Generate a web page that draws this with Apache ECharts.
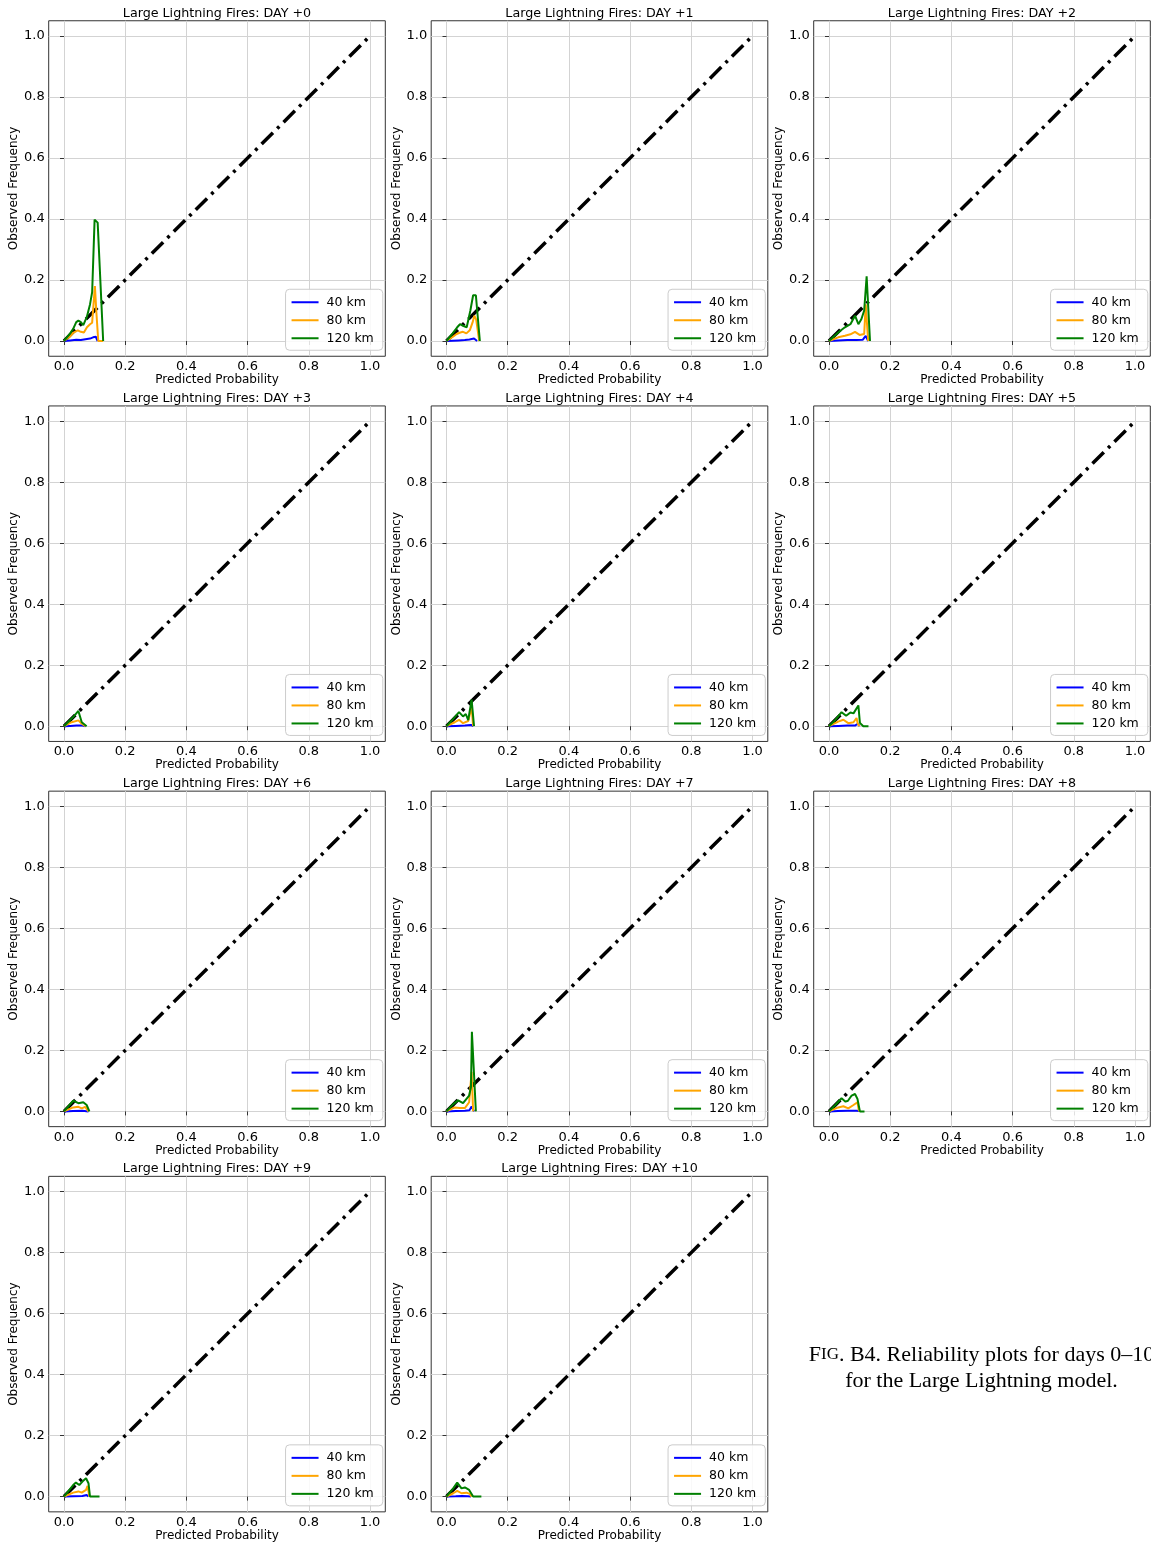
<!DOCTYPE html>
<html>
<head>
<meta charset="utf-8">
<script src="https://cdn.jsdelivr.net/npm/echarts@6/dist/echarts.min.js"></script>
<style>
html,body{margin:0;padding:0;background:#fff;}
#chart{width:1151px;height:1544px;}
</style>
</head>
<body>
<div id="chart"></div>
<script>
// ---- data ----
const dayLabels = ['DAY +0','DAY +1','DAY +2','DAY +3','DAY +4','DAY +5','DAY +6','DAY +7','DAY +8','DAY +9','DAY +10'];
const seriesNames = ['40 km','80 km','120 km'];
const tickValues = [0, 0.2, 0.4, 0.6, 0.8, 1.0];
const perfectLine = [[0, 0], [1, 1]];

const day0_40  = [[0,0],[0.02,0.002],[0.04,0.004],[0.055,0.003],[0.07,0.006],[0.085,0.008],[0.095,0.012],[0.104,0.014],[0.11,0]];
const day0_80  = [[0,0],[0.02,0.015],[0.03,0.027],[0.045,0.035],[0.055,0.03],[0.065,0.028],[0.075,0.045],[0.085,0.055],[0.092,0.06],[0.101,0.18],[0.106,0.09],[0.112,0],[0.128,0]];
const day0_120 = [[0,0],[0.02,0.025],[0.03,0.04],[0.04,0.062],[0.047,0.067],[0.055,0.062],[0.063,0.052],[0.075,0.08],[0.085,0.12],[0.092,0.16],[0.1,0.398],[0.11,0.388],[0.128,0]];

const day1_40  = [[0,0],[0.02,0.001],[0.04,0.002],[0.06,0.003],[0.075,0.005],[0.09,0.008],[0.1,0]];
const day1_80  = [[0,0],[0.02,0.013],[0.033,0.023],[0.045,0.028],[0.054,0.03],[0.065,0.025],[0.076,0.035],[0.085,0.06],[0.091,0.083],[0.097,0.07],[0.107,0]];
const day1_120 = [[0,0],[0.02,0.025],[0.035,0.045],[0.044,0.055],[0.054,0.05],[0.066,0.045],[0.078,0.1],[0.087,0.15],[0.096,0.15],[0.109,0]];

const day2_40  = [[0,0],[0.03,0.002],[0.06,0.003],[0.09,0.003],[0.11,0.004],[0.12,0.017],[0.128,0]];
const day2_80  = [[0,0],[0.03,0.012],[0.052,0.017],[0.07,0.022],[0.085,0.03],[0.1,0.02],[0.115,0.023],[0.12,0.12],[0.128,0]];
const day2_120 = [[0,0],[0.03,0.028],[0.052,0.045],[0.07,0.055],[0.085,0.083],[0.096,0.055],[0.106,0.072],[0.115,0.1],[0.123,0.212],[0.134,0]];

const day3_40  = [[0,0],[0.02,0.001],[0.04,0.002],[0.06,0.002],[0.07,0]];
const day3_80  = [[0,0],[0.025,0.013],[0.047,0.019],[0.058,0.008],[0.07,0]];
const day3_120 = [[0,0],[0.03,0.03],[0.047,0.05],[0.058,0.013],[0.074,0]];

const day4_40  = [[0,0],[0.03,0.001],[0.06,0.002],[0.08,0.004],[0.087,0]];
const day4_80  = [[0,0],[0.027,0.013],[0.041,0.021],[0.054,0.01],[0.071,0.017],[0.082,0.063],[0.087,0]];
const day4_120 = [[0,0],[0.022,0.024],[0.041,0.046],[0.054,0.032],[0.063,0.04],[0.071,0.02],[0.082,0.087],[0.09,0]];

const day5_40  = [[0,0],[0.03,0.001],[0.06,0.002],[0.085,0.002],[0.094,0.008],[0.1,0]];
const day5_80  = [[0,0],[0.03,0.015],[0.047,0.021],[0.063,0.01],[0.08,0.013],[0.09,0.027],[0.094,0.008],[0.1,0]];
const day5_120 = [[0,0],[0.02,0.02],[0.041,0.046],[0.056,0.034],[0.07,0.045],[0.08,0.042],[0.096,0.068],[0.101,0.011],[0.112,0],[0.129,0]];

const day6_40  = [[0,0],[0.03,0.001],[0.06,0.002],[0.08,0]];
const day6_80  = [[0,0],[0.03,0.013],[0.047,0.015],[0.058,0.01],[0.069,0.015],[0.08,0]];
const day6_120 = [[0,0],[0.03,0.035],[0.036,0.041],[0.047,0.027],[0.063,0.03],[0.074,0.021],[0.083,0]];

const day7_40  = [[0,0],[0.03,0.001],[0.06,0.002],[0.075,0.004],[0.082,0.016],[0.09,0]];
const day7_80  = [[0,0],[0.027,0.013],[0.044,0.011],[0.06,0.011],[0.074,0.03],[0.082,0.13],[0.087,0]];
const day7_120 = [[0,0],[0.022,0.024],[0.038,0.036],[0.054,0.027],[0.074,0.052],[0.08,0.08],[0.083,0.261],[0.096,0]];

const day8_40  = [[0,0],[0.03,0.001],[0.06,0.002],[0.09,0.002],[0.1,0.001]];
const day8_80  = [[0,0],[0.03,0.013],[0.047,0.017],[0.063,0.01],[0.08,0.021],[0.093,0.03],[0.098,0]];
const day8_120 = [[0,0],[0.02,0.02],[0.041,0.043],[0.054,0.032],[0.062,0.035],[0.074,0.052],[0.085,0.057],[0.093,0.041],[0.101,0],[0.116,0]];

const day9_40  = [[0,0],[0.03,0.001],[0.06,0.002],[0.074,0.005],[0.08,0]];
const day9_80  = [[0,0],[0.03,0.013],[0.047,0.017],[0.058,0.013],[0.072,0.022],[0.077,0.035],[0.083,0]];
const day9_120 = [[0,0],[0.03,0.038],[0.039,0.046],[0.05,0.038],[0.061,0.05],[0.072,0.06],[0.08,0.044],[0.085,0],[0.116,0]];

const day10_40  = [[0,0],[0.03,0.001],[0.05,0.002],[0.07,0.001],[0.08,0]];
const day10_80  = [[0,0],[0.022,0.011],[0.035,0.019],[0.049,0.011],[0.065,0.013],[0.076,0.009],[0.082,0]];
const day10_120 = [[0,0],[0.022,0.027],[0.035,0.046],[0.049,0.027],[0.06,0.03],[0.066,0.032],[0.074,0.022],[0.087,0],[0.114,0]];

const km40  = [day0_40, day1_40, day2_40, day3_40, day4_40, day5_40, day6_40, day7_40, day8_40, day9_40, day10_40];
const km80  = [day0_80, day1_80, day2_80, day3_80, day4_80, day5_80, day6_80, day7_80, day8_80, day9_80, day10_80];
const km120 = [day0_120, day1_120, day2_120, day3_120, day4_120, day5_120, day6_120, day7_120, day8_120, day9_120, day10_120];

// ---- layout ----
const W = 1151, H = 1544;
const FONT = 'DejaVu Sans';
const gLeft0 = 48.7, gTop0 = 20.75, colStep = 382.5, rowStep = 385.2;
const gW = 336.6, gH = 335.5;
const colors = ['#0000ff', '#ffa500', '#008000'];

const grids = [], xAxes = [], yAxes = [], titles = [], legends = [], series = [];

dayLabels.forEach((d, i) => {
  const col = i % 3, row = Math.floor(i / 3);
  const left = gLeft0 + col * colStep, top = gTop0 + row * rowStep;
  grids.push({left: left, top: top, width: gW, height: gH, show: true,
    borderColor: '#333', borderWidth: 1, backgroundColor: '#fff', containLabel: false});
  const axisCommon = {
    type: 'value', gridIndex: i, min: -0.05, max: 1.05,
    nameLocation: 'middle',
    nameTextStyle: {fontFamily: FONT, fontSize: 12, color: '#000'},
    axisLine: {show: false},
    axisTick: {show: true, inside: false, length: 4, customValues: tickValues, lineStyle: {color: '#333', width: 1}},
    axisLabel: {customValues: tickValues, fontFamily: FONT, fontSize: 13, color: '#000', margin: 4,
      formatter: v => Number(v).toFixed(1)},
    splitLine: {show: true, lineStyle: {color: '#d3d3d3', width: 1}}
  };
  xAxes.push(Object.assign({}, axisCommon, {name: 'Predicted Probability', nameGap: 13}));
  yAxes.push(Object.assign({}, axisCommon, {name: 'Observed Frequency', nameGap: 22}));
  titles.push({text: 'Large Lightning Fires: ' + d, left: left + gW / 2, top: top - 14, textAlign: 'center', padding: 0,
    textStyle: {fontFamily: FONT, fontSize: 12.7, fontWeight: 'normal', color: '#000'}});
  legends.push({
    orient: 'vertical', right: W - (left + gW - 2.5), bottom: H - (top + gH - 6),
    data: seriesNames, icon: 'rect', itemWidth: 27, itemHeight: 2, itemGap: 4,
    padding: [6, 9, 5, 6], backgroundColor: 'rgba(255,255,255,0.85)',
    borderColor: '#cccccc', borderWidth: 1, borderRadius: 4,
    selectedMode: false,
    textStyle: {fontFamily: FONT, fontSize: 12.5, color: '#000', lineHeight: 14, padding: [0, 0, 0, 3]}
  });
  series.push({type: 'line', name: 'perfect', xAxisIndex: i, yAxisIndex: i, data: perfectLine,
    showSymbol: false, silent: true, z: 2,
    lineStyle: {color: '#000', width: 3.5, type: [16, 6, 3, 6]}});
  [km40, km80, km120].forEach((arr, k) => {
    series.push({type: 'line', name: seriesNames[k], xAxisIndex: i, yAxisIndex: i, data: arr[i],
      showSymbol: false, z: 3 + k, color: colors[k],
      lineStyle: {color: colors[k], width: 2}});
  });
});

const chart = echarts.init(document.getElementById('chart'), null, {renderer: 'canvas'});
chart.setOption({
  animation: false,
  backgroundColor: '#fff',
  grid: grids, xAxis: xAxes, yAxis: yAxes, title: titles, legend: legends, series: series,
  graphic: [
    {type: 'text', x: 981.5, y: 1355, style: {
      text: '{a|F}{b|IG}{a|. B4. Reliability plots for days 0–10}',
      align: 'center', verticalAlign: 'middle', fill: '#000',
      rich: {a: {fontFamily: 'Liberation Serif', fontSize: 22, fill: '#000'},
             b: {fontFamily: 'Liberation Serif', fontSize: 17, fill: '#000'}}}},
    {type: 'text', x: 981.5, y: 1381, style: {
      text: 'for the Large Lightning model.', align: 'center', verticalAlign: 'middle', fill: '#000',
      font: '22px "Liberation Serif"'}}
  ]
});
</script>
</body>
</html>
